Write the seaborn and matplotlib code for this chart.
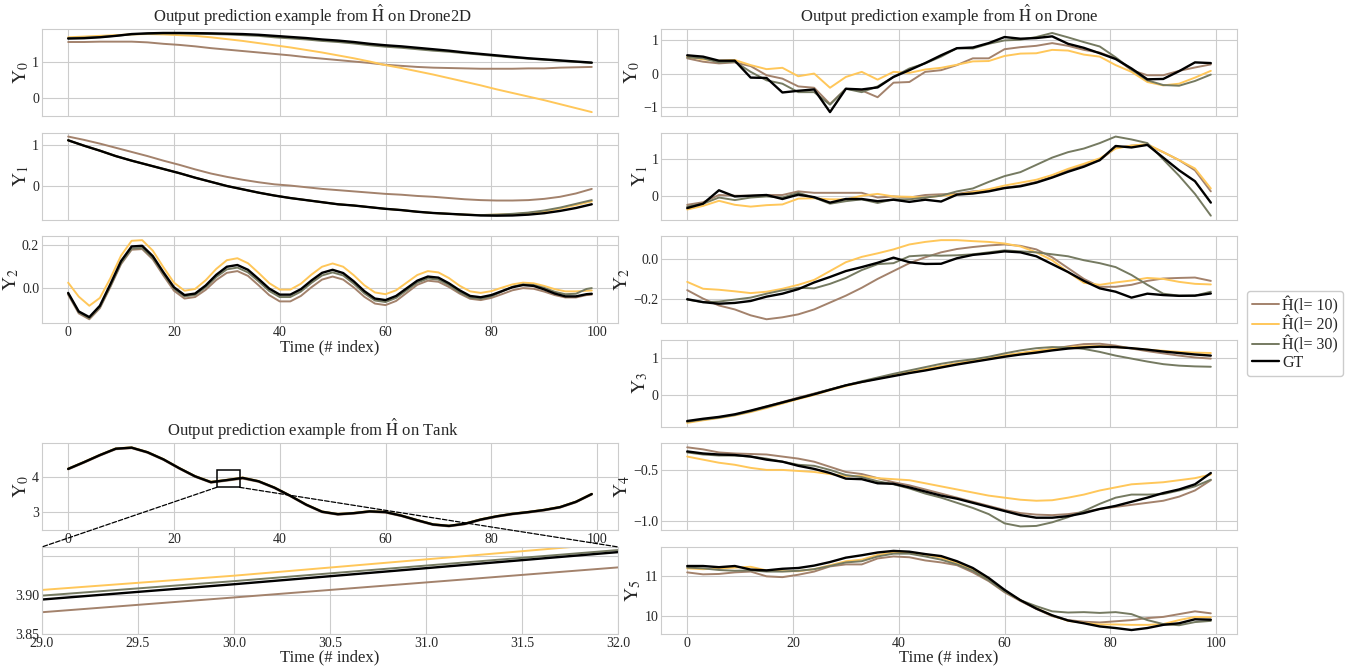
"""Prediction examples from H-hat on Drone2D, Tank and Drone."""

import matplotlib
matplotlib.use("Agg")
import matplotlib.pyplot as plt
import seaborn as sns
from matplotlib.patches import ConnectionPatch, Rectangle

T = [0, 3, 6, 9, 12, 15, 18, 21, 24, 27, 30, 33, 36, 39, 42, 45, 48, 51,
     54, 57, 60, 63, 66, 69, 72, 75, 78, 81, 84, 87, 90, 93, 96, 99]
T2 = [0, 2, 4, 6, 8, 10, 12, 14, 16, 18, 20, 22, 24, 26, 28, 30, 32, 34, 36, 38, 40, 42, 44, 46, 48,
      50, 52, 54, 56, 58, 60, 62, 64, 66, 68, 70, 72, 74, 76, 78, 80, 82, 84, 86, 88, 90, 92, 94, 96, 98, 99]
XTICKS = [0, 20, 40, 60, 80, 100]
LABELS = ["\u0124(l= 10)", "\u0124(l= 20)", "\u0124(l= 30)", "GT"]
COLORS = ["#a3826c", "#ffc75a", "#757a61", "#000000"]

# Drone2D
D2_Y0_L10 = [1.55, 1.55, 1.56, 1.56, 1.56, 1.54, 1.50, 1.47, 1.43, 1.38, 1.34, 1.30, 1.26, 1.22, 1.18, 1.13, 1.09,
             1.05, 1.01, 0.97, 0.92, 0.89, 0.86, 0.84, 0.83, 0.82, 0.81, 0.81, 0.81, 0.82, 0.82, 0.84, 0.85, 0.86]
D2_Y0_L20 = [1.68, 1.70, 1.72, 1.74, 1.76, 1.77, 1.76, 1.74, 1.72, 1.68, 1.63, 1.58, 1.52, 1.46, 1.40, 1.33, 1.26,
             1.18, 1.10, 1.01, 0.91, 0.83, 0.74, 0.65, 0.55, 0.45, 0.35, 0.24, 0.14, 0.04, -0.06, -0.17, -0.28, -0.39]
D2_Y0_L30 = [1.66, 1.67, 1.69, 1.72, 1.76, 1.78, 1.79, 1.79, 1.78, 1.77, 1.76, 1.74, 1.72, 1.68, 1.65, 1.62, 1.58,
             1.55, 1.51, 1.46, 1.42, 1.39, 1.35, 1.31, 1.28, 1.24, 1.20, 1.16, 1.12, 1.09, 1.06, 1.03, 1.00, 0.97]
D2_Y0_GT = [1.645, 1.655, 1.68, 1.72, 1.77, 1.79, 1.80, 1.80, 1.795, 1.79, 1.78, 1.77, 1.75, 1.72, 1.69, 1.66, 1.62,
            1.59, 1.55, 1.50, 1.46, 1.43, 1.39, 1.35, 1.31, 1.26, 1.22, 1.18, 1.14, 1.10, 1.07, 1.04, 1.01, 0.98]

D2_Y1_L10 = [1.20, 1.12, 1.03, 0.93, 0.83, 0.73, 0.62, 0.52, 0.41, 0.31, 0.23, 0.16, 0.10, 0.05, 0.02, -0.02, -0.06,
             -0.09, -0.12, -0.15, -0.18, -0.20, -0.23, -0.25, -0.28, -0.31, -0.33, -0.34, -0.34, -0.33, -0.30, -0.25,
             -0.17, -0.06]
D2_Y1_L20 = [1.11, 0.98, 0.86, 0.73, 0.62, 0.52, 0.42, 0.32, 0.21, 0.11, 0.01, -0.07, -0.15, -0.22, -0.28, -0.33,
             -0.38, -0.43, -0.46, -0.50, -0.54, -0.57, -0.61, -0.64, -0.66, -0.68, -0.69, -0.68, -0.67, -0.64, -0.60,
             -0.53, -0.45, -0.36]
D2_Y1_L30 = [1.11, 0.98, 0.86, 0.73, 0.62, 0.52, 0.42, 0.32, 0.21, 0.11, 0.01, -0.07, -0.15, -0.22, -0.28, -0.33,
             -0.38, -0.43, -0.46, -0.50, -0.54, -0.57, -0.61, -0.64, -0.66, -0.68, -0.69, -0.68, -0.66, -0.63, -0.58,
             -0.51, -0.42, -0.33]
D2_Y1_GT = [1.11, 0.98, 0.86, 0.73, 0.62, 0.52, 0.42, 0.32, 0.21, 0.11, 0.01, -0.07, -0.15, -0.22, -0.28, -0.33,
            -0.38, -0.43, -0.46, -0.50, -0.54, -0.57, -0.61, -0.64, -0.66, -0.68, -0.70, -0.705, -0.70, -0.68, -0.645,
            -0.59, -0.52, -0.43]

# Drone2D Y2 oscillates, so it is read every two steps (T2)
D2_Y2_L10 = [-0.030, -0.116, -0.143, -0.092, 0.006, 0.110, 0.176, 0.179, 0.132, 0.058, -0.012, -0.048, -0.041,
             -0.008, 0.037, 0.070, 0.078, 0.056, 0.013, -0.032, -0.061, -0.061, -0.036, 0.004, 0.039, 0.053, 0.039,
             0.003, -0.040, -0.071, -0.078, -0.059, -0.022, 0.015, 0.034, 0.029, 0.005, -0.025, -0.049, -0.055,
             -0.045, -0.028, -0.010, 0.000, -0.003, -0.016, -0.032, -0.043, -0.043, -0.032, -0.030]
D2_Y2_L20 = [0.025, -0.039, -0.081, -0.045, 0.046, 0.149, 0.217, 0.220, 0.172, 0.096, 0.025, -0.012, -0.004, 0.036,
             0.088, 0.128, 0.137, 0.114, 0.070, 0.023, -0.007, -0.007, 0.020, 0.062, 0.098, 0.113, 0.098, 0.059,
             0.013, -0.020, -0.028, -0.010, 0.025, 0.060, 0.078, 0.072, 0.046, 0.011, -0.015, -0.022, -0.014, 0.002,
             0.017, 0.025, 0.022, 0.010, -0.005, -0.015, -0.015, -0.012, -0.011]
D2_Y2_L30 = [-0.025, -0.111, -0.138, -0.087, 0.011, 0.115, 0.181, 0.184, 0.138, 0.066, -0.003, -0.038, -0.031,
             0.004, 0.051, 0.086, 0.094, 0.072, 0.031, -0.013, -0.041, -0.041, -0.016, 0.024, 0.058, 0.072, 0.058,
             0.020, -0.024, -0.057, -0.064, -0.045, -0.010, 0.025, 0.044, 0.039, 0.014, -0.019, -0.044, -0.049,
             -0.038, -0.016, 0.006, 0.017, 0.014, 0.001, -0.017, -0.028, -0.026, -0.004, 0.000]
D2_Y2_GT = [-0.022, -0.107, -0.133, -0.081, 0.019, 0.124, 0.191, 0.194, 0.147, 0.073, 0.004, -0.032, -0.025, 0.012,
            0.061, 0.098, 0.106, 0.084, 0.042, -0.002, -0.030, -0.030, -0.005, 0.035, 0.070, 0.084, 0.069, 0.031,
            -0.014, -0.048, -0.055, -0.036, -0.001, 0.034, 0.053, 0.048, 0.022, -0.010, -0.036, -0.042, -0.032,
            -0.014, 0.004, 0.014, 0.010, -0.006, -0.025, -0.038, -0.038, -0.028, -0.026]

# Tank
TK_Y0_L10 = [4.215, 4.405, 4.605, 4.785, 4.815, 4.685, 4.485, 4.235, 4.005, 3.840, 3.897, 3.955, 3.865, 3.685, 3.455,
             3.205, 3.005, 2.935, 2.965, 3.015, 2.995, 2.895, 2.765, 2.645, 2.605, 2.665, 2.785, 2.875, 2.945, 2.995,
             3.055, 3.135, 3.285, 3.505]
TK_Y0_L20 = [4.24, 4.43, 4.63, 4.81, 4.84, 4.71, 4.51, 4.26, 4.03, 3.870, 3.925, 3.988, 3.89, 3.71, 3.48, 3.23, 3.03,
             2.96, 2.99, 3.04, 3.02, 2.92, 2.79, 2.67, 2.63, 2.69, 2.81, 2.90, 2.97, 3.02, 3.08, 3.16, 3.31, 3.53]
TK_Y0_L30 = [4.235, 4.425, 4.625, 4.805, 4.835, 4.705, 4.505, 4.255, 4.025, 3.862, 3.918, 3.978, 3.885, 3.705, 3.475,
             3.225, 3.025, 2.955, 2.985, 3.035, 3.015, 2.915, 2.785, 2.665, 2.625, 2.685, 2.805, 2.895, 2.965, 3.015,
             3.075, 3.155, 3.305, 3.525]
TK_Y0_GT = [4.23, 4.42, 4.62, 4.80, 4.83, 4.70, 4.50, 4.25, 4.02, 3.855, 3.914, 3.976, 3.88, 3.70, 3.47, 3.22, 3.02,
            2.95, 2.98, 3.03, 3.01, 2.91, 2.78, 2.66, 2.62, 2.68, 2.80, 2.89, 2.96, 3.01, 3.07, 3.15, 3.30, 3.52]

# Drone
DR_Y0_L10 = [0.45, 0.35, 0.30, 0.33, 0.22, -0.05, -0.15, -0.38, -0.42, -0.90, -0.45, -0.50, -0.70, -0.27, -0.25, 0.05,
             0.10, 0.25, 0.45, 0.45, 0.72, 0.78, 0.82, 0.90, 0.82, 0.70, 0.62, 0.45, 0.10, -0.05, -0.05, 0.08, 0.18, 0.27]
DR_Y0_L20 = [0.50, 0.42, 0.38, 0.40, 0.25, 0.13, 0.17, -0.08, 0.00, -0.42, -0.10, 0.05, -0.18, 0.05, 0.02, 0.12, 0.17,
             0.26, 0.36, 0.37, 0.52, 0.59, 0.60, 0.70, 0.68, 0.56, 0.50, 0.25, 0.05, -0.25, -0.35, -0.30, -0.12, 0.08]
DR_Y0_L30 = [0.48, 0.45, 0.33, 0.35, 0.05, -0.20, -0.30, -0.55, -0.55, -0.92, -0.45, -0.55, -0.38, -0.10, 0.15, 0.30,
             0.50, 0.75, 0.74, 0.88, 0.98, 1.00, 1.08, 1.20, 1.07, 0.93, 0.80, 0.48, 0.12, -0.20, -0.34, -0.36, -0.22,
             -0.03]
DR_Y0_GT = [0.54, 0.50, 0.38, 0.38, -0.12, -0.13, -0.56, -0.51, -0.47, -1.14, -0.45, -0.47, -0.41, -0.10, 0.10, 0.31,
            0.54, 0.75, 0.77, 0.90, 1.08, 1.03, 1.05, 1.10, 0.88, 0.76, 0.60, 0.43, 0.15, -0.17, -0.16, 0.07, 0.33, 0.31]

DR_Y1_L10 = [-0.25, -0.18, 0.02, 0.00, 0.00, 0.02, 0.02, 0.12, 0.08, 0.08, 0.08, 0.08, -0.05, -0.02, -0.05, 0.02, 0.04,
             0.05, 0.12, 0.15, 0.22, 0.28, 0.38, 0.52, 0.70, 0.85, 0.98, 1.32, 1.38, 1.40, 1.20, 0.98, 0.70, 0.12]
DR_Y1_L20 = [-0.38, -0.28, -0.14, -0.25, -0.30, -0.26, -0.24, -0.08, -0.07, -0.10, -0.10, 0.00, 0.05, -0.02, -0.03,
             -0.05, 0.00, 0.03, 0.10, 0.18, 0.28, 0.36, 0.44, 0.57, 0.74, 0.88, 1.03, 1.30, 1.38, 1.42, 1.20, 0.98,
             0.75, 0.20]
DR_Y1_L30 = [-0.30, -0.22, -0.05, -0.12, -0.05, -0.02, -0.05, 0.08, -0.05, -0.22, -0.15, -0.10, -0.20, -0.10, -0.10,
             -0.05, 0.00, 0.12, 0.20, 0.38, 0.54, 0.65, 0.85, 1.05, 1.20, 1.30, 1.45, 1.63, 1.55, 1.45, 1.00, 0.55,
             0.05, -0.55]
DR_Y1_GT = [-0.34, -0.22, 0.15, -0.02, 0.00, 0.02, -0.09, 0.03, -0.04, -0.19, -0.09, -0.09, -0.15, -0.11, -0.17, -0.11,
            -0.16, 0.03, 0.06, 0.12, 0.21, 0.26, 0.36, 0.50, 0.66, 0.80, 0.98, 1.37, 1.33, 1.40, 1.05, 0.70, 0.40, -0.19]

DR_Y2_L10 = [-0.157, -0.200, -0.235, -0.255, -0.285, -0.305, -0.295, -0.280, -0.255, -0.220, -0.185, -0.145, -0.100,
             -0.060, -0.020, 0.010, 0.035, 0.052, 0.062, 0.070, 0.075, 0.068, 0.050, 0.010, -0.045, -0.100, -0.140,
             -0.140, -0.130, -0.110, -0.098, -0.095, -0.093, -0.110]
DR_Y2_L20 = [-0.115, -0.150, -0.155, -0.163, -0.172, -0.165, -0.150, -0.130, -0.105, -0.060, -0.015, 0.012, 0.030,
             0.050, 0.075, 0.088, 0.097, 0.097, 0.092, 0.088, 0.080, 0.065, 0.035, -0.005, -0.065, -0.120, -0.130,
             -0.118, -0.108, -0.095, -0.100, -0.115, -0.125, -0.128]
DR_Y2_L30 = [-0.205, -0.218, -0.215, -0.205, -0.195, -0.175, -0.158, -0.145, -0.148, -0.125, -0.095, -0.055, -0.025,
             -0.020, 0.015, 0.020, 0.018, 0.020, 0.025, 0.035, 0.045, 0.040, 0.035, 0.025, 0.015, -0.005, -0.020,
             -0.040, -0.080, -0.130, -0.175, -0.185, -0.185, -0.165]
DR_Y2_GT = [-0.203, -0.218, -0.226, -0.222, -0.212, -0.190, -0.175, -0.152, -0.118, -0.090, -0.060, -0.040, -0.018,
            0.008, -0.015, -0.024, -0.023, 0.005, 0.022, 0.030, 0.040, 0.035, 0.015, -0.025, -0.065, -0.110, -0.148,
            -0.165, -0.195, -0.175, -0.182, -0.186, -0.185, -0.174]

DR_Y3_L10 = [-0.72, -0.66, -0.60, -0.53, -0.43, -0.31, -0.19, -0.07, 0.04, 0.15, 0.26, 0.35, 0.44, 0.53, 0.61, 0.69,
             0.77, 0.85, 0.92, 0.99, 1.06, 1.12, 1.18, 1.24, 1.31, 1.37, 1.38, 1.33, 1.25, 1.18, 1.12, 1.06, 1.01, 0.98]
DR_Y3_L20 = [-0.75, -0.68, -0.62, -0.55, -0.46, -0.35, -0.23, -0.11, 0.00, 0.13, 0.24, 0.35, 0.45, 0.55, 0.62, 0.70,
             0.78, 0.85, 0.93, 1.00, 1.07, 1.13, 1.19, 1.24, 1.29, 1.31, 1.32, 1.29, 1.26, 1.22, 1.19, 1.16, 1.14, 1.13]
DR_Y3_L30 = [-0.72, -0.66, -0.61, -0.54, -0.44, -0.33, -0.21, -0.09, 0.03, 0.15, 0.26, 0.37, 0.47, 0.57, 0.66, 0.75,
             0.84, 0.91, 0.96, 1.03, 1.12, 1.20, 1.26, 1.29, 1.28, 1.24, 1.16, 1.06, 0.98, 0.90, 0.83, 0.79, 0.77, 0.76]
DR_Y3_GT = [-0.70, -0.64, -0.59, -0.52, -0.42, -0.31, -0.20, -0.09, 0.02, 0.14, 0.26, 0.35, 0.43, 0.51, 0.59, 0.66,
            0.74, 0.82, 0.89, 0.96, 1.03, 1.09, 1.14, 1.20, 1.25, 1.28, 1.30, 1.29, 1.26, 1.22, 1.17, 1.13, 1.09, 1.06]

DR_Y4_L10 = [-0.28, -0.30, -0.33, -0.34, -0.345, -0.35, -0.37, -0.39, -0.42, -0.47, -0.52, -0.54, -0.58, -0.62, -0.65,
             -0.69, -0.73, -0.77, -0.81, -0.85, -0.89, -0.92, -0.935, -0.94, -0.93, -0.91, -0.88, -0.86, -0.84, -0.82,
             -0.80, -0.76, -0.70, -0.60]
DR_Y4_L20 = [-0.37, -0.40, -0.43, -0.45, -0.48, -0.50, -0.50, -0.51, -0.52, -0.54, -0.56, -0.56, -0.58, -0.59, -0.60,
             -0.63, -0.66, -0.69, -0.72, -0.75, -0.77, -0.79, -0.80, -0.795, -0.77, -0.74, -0.70, -0.67, -0.64, -0.63,
             -0.62, -0.60, -0.58, -0.545]
DR_Y4_L30 = [-0.33, -0.35, -0.36, -0.36, -0.37, -0.39, -0.42, -0.45, -0.46, -0.50, -0.55, -0.57, -0.61, -0.64, -0.68,
             -0.73, -0.77, -0.82, -0.87, -0.93, -1.02, -1.05, -1.045, -1.01, -0.96, -0.90, -0.83, -0.77, -0.74, -0.74,
             -0.735, -0.70, -0.66, -0.595]
DR_Y4_GT = [-0.32, -0.34, -0.35, -0.355, -0.37, -0.40, -0.42, -0.46, -0.49, -0.53, -0.585, -0.59, -0.63, -0.635, -0.67,
            -0.71, -0.75, -0.78, -0.82, -0.86, -0.90, -0.94, -0.965, -0.965, -0.95, -0.92, -0.88, -0.85, -0.81, -0.77,
            -0.725, -0.69, -0.64, -0.53]

DR_Y5_L10 = [11.10, 11.05, 11.06, 11.10, 11.12, 11.00, 10.98, 11.04, 11.12, 11.25, 11.30, 11.30, 11.45, 11.50, 11.48,
             11.40, 11.35, 11.28, 11.10, 10.88, 10.60, 10.38, 10.18, 10.00, 9.90, 9.86, 9.84, 9.87, 9.90, 9.95, 9.98,
             10.05, 10.12, 10.07]
DR_Y5_L20 = [11.20, 11.18, 11.20, 11.22, 11.24, 11.15, 11.13, 11.13, 11.18, 11.28, 11.38, 11.42, 11.54, 11.60, 11.60,
             11.55, 11.47, 11.33, 11.17, 10.93, 10.64, 10.40, 10.20, 10.02, 9.88, 9.83, 9.79, 9.79, 9.78, 9.78, 9.80,
             9.90, 9.98, 9.97]
DR_Y5_L30 = [11.22, 11.20, 11.16, 11.14, 11.15, 11.12, 11.12, 11.14, 11.18, 11.26, 11.35, 11.38, 11.50, 11.57, 11.57,
             11.50, 11.42, 11.30, 11.14, 10.90, 10.62, 10.40, 10.25, 10.12, 10.09, 10.10, 10.08, 10.10, 10.05, 9.90,
             9.80, 9.77, 9.85, 9.88]
DR_Y5_GT = [11.26, 11.26, 11.23, 11.26, 11.17, 11.15, 11.19, 11.21, 11.27, 11.36, 11.47, 11.53, 11.60, 11.64, 11.62,
            11.56, 11.51, 11.38, 11.21, 10.96, 10.66, 10.40, 10.19, 10.02, 9.89, 9.82, 9.74, 9.70, 9.65, 9.70, 9.78,
            9.82, 9.92, 9.91]


def draw(ax, series, x=T):
    """Draw the three predictions and the ground truth on one axis."""
    for vals, label, color in zip(series, LABELS, COLORS):
        lw = 1.7 if label == "GT" else 1.4
        sns.lineplot(x=x, y=vals, ax=ax, color=color, linewidth=lw, label=label, legend=False)
    ax.set_xlabel("")


def main() -> None:
    sns.set_style("whitegrid")
    plt.rcParams["font.family"] = ["Liberation Serif", "DejaVu Serif"]
    plt.rcParams["mathtext.fontset"] = "stix"
    plt.rcParams["xtick.labelsize"] = 10
    plt.rcParams["ytick.labelsize"] = 10
    plt.rcParams["xtick.major.size"] = 0
    plt.rcParams["ytick.major.size"] = 0
    plt.rcParams["xtick.major.pad"] = 2
    plt.rcParams["ytick.major.pad"] = 2

    fig = plt.figure(figsize=(13.54, 6.67), dpi=100)
    gl = fig.add_gridspec(6, 1, left=0.031, right=0.4564, top=0.9565, bottom=0.0495, hspace=0.19)
    gr = fig.add_gridspec(6, 1, left=0.4882, right=0.9136, top=0.9565, bottom=0.0495, hspace=0.19)

    ylab = dict(fontsize=14, labelpad=1)
    xlab = dict(fontsize=12, labelpad=0)
    title_kw = dict(fontsize=12, pad=5)

    # left column: Drone2D
    d2 = [
        ([D2_Y0_L10, D2_Y0_L20, D2_Y0_L30, D2_Y0_GT], T, [0, 1]),
        ([D2_Y1_L10, D2_Y1_L20, D2_Y1_L30, D2_Y1_GT], T, [0, 1]),
        ([D2_Y2_L10, D2_Y2_L20, D2_Y2_L30, D2_Y2_GT], T2, [0.0, 0.2]),
    ]
    for i, (series, xs, yt) in enumerate(d2):
        ax = fig.add_subplot(gl[i])
        draw(ax, series, xs)
        ax.set_xticks(XTICKS)
        ax.set_yticks(yt)
        ax.set_ylabel(rf"$\mathrm{{Y}}_{{{i}}}$", **ylab)
        if i == 0:
            ax.set_title(r"Output prediction example from $\hat{\mathrm{H}}$ on Drone2D", x=0.47, **title_kw)
        if i < 2:
            ax.tick_params(labelbottom=False)
        else:
            ax.set_xlabel("Time (# index)", **xlab)

    # left column: Tank with zoomed inset
    ax_tank = fig.add_subplot(gl[4])
    draw(ax_tank, [TK_Y0_L10, TK_Y0_L20, TK_Y0_L30, TK_Y0_GT])
    ax_tank.set_xticks(XTICKS)
    ax_tank.set_yticks([3, 4])
    ax_tank.set_ylabel(r"$\mathrm{Y}_{0}$", **ylab)
    ax_tank.set_title(r"Output prediction example from $\hat{\mathrm{H}}$ on Tank", x=0.47, **title_kw)

    ax_zoom = fig.add_subplot(gl[5])
    draw(ax_zoom, [TK_Y0_L10, TK_Y0_L20, TK_Y0_L30, TK_Y0_GT])
    ax_zoom.set_xlim(29, 32)
    ax_zoom.set_ylim(3.85, 3.962)
    ax_zoom.set_xticks([29.0, 29.5, 30.0, 30.5, 31.0, 31.5, 32.0])
    ax_zoom.set_xticklabels(["29.0", "29.5", "30.0", "30.5", "31.0", "31.5", "32.0"])
    ax_zoom.set_yticks([3.85, 3.90, 3.95])
    ax_zoom.set_yticklabels(["3.85", "3.90", ""])
    ax_zoom.set_xlabel("Time (# index)", **xlab)

    ax_tank.add_patch(Rectangle((28.1, 3.71), 4.3, 0.48, fill=False, ec="black", lw=1.1, zorder=5))
    for xa, xb in [(28.1, 0), (32.4, 1)]:
        con = ConnectionPatch(xyA=(xa, 3.71), coordsA="data", axesA=ax_tank,
                              xyB=(xb, 1), coordsB="axes fraction", axesB=ax_zoom,
                              color="black", linestyle="--", linewidth=0.9)
        fig.add_artist(con)

    # right column: Drone
    dr = [
        ([DR_Y0_L10, DR_Y0_L20, DR_Y0_L30, DR_Y0_GT], [-1, 0, 1]),
        ([DR_Y1_L10, DR_Y1_L20, DR_Y1_L30, DR_Y1_GT], [0, 1]),
        ([DR_Y2_L10, DR_Y2_L20, DR_Y2_L30, DR_Y2_GT], [-0.2, 0.0]),
        ([DR_Y3_L10, DR_Y3_L20, DR_Y3_L30, DR_Y3_GT], [0, 1]),
        ([DR_Y4_L10, DR_Y4_L20, DR_Y4_L30, DR_Y4_GT], [-1.0, -0.5]),
        ([DR_Y5_L10, DR_Y5_L20, DR_Y5_L30, DR_Y5_GT], [10, 11]),
    ]
    for i, (series, yt) in enumerate(dr):
        ax = fig.add_subplot(gr[i])
        draw(ax, series)
        ax.set_xticks(XTICKS)
        ax.set_yticks(yt)
        ax.set_ylabel(rf"$\mathrm{{Y}}_{{{i}}}$", **ylab)
        if i == 0:
            ax.set_title(r"Output prediction example from $\hat{\mathrm{H}}$ on Drone", **title_kw)
        if i < 5:
            ax.tick_params(labelbottom=False)
        else:
            ax.set_xlabel("Time (# index)", **xlab)

    handles, labels = ax.get_legend_handles_labels()
    fig.legend(handles, labels, loc="center left", bbox_to_anchor=(0.921, 0.5), fontsize=11.5,
               frameon=True, framealpha=1, edgecolor="0.8", handlelength=1.7,
               handletextpad=0.2, labelspacing=0.1, borderpad=0.3, borderaxespad=0)

    fig.savefig("out.png", dpi=100)
    plt.close(fig)


if __name__ == "__main__":
    main()
